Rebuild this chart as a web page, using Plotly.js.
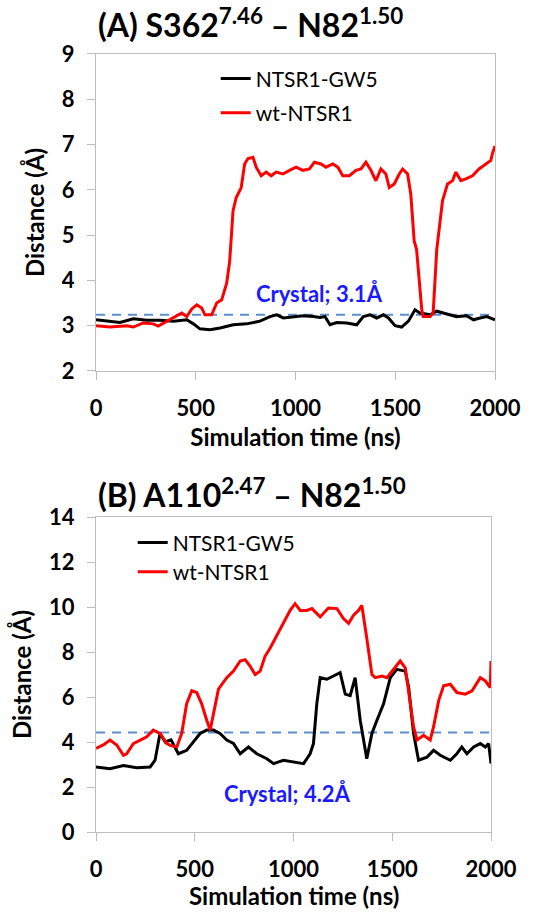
<!DOCTYPE html>
<html>
<head>
<meta charset="utf-8">
<script src="https://cdn.plot.ly/plotly-3.0.1.min.js"></script>
<style>html,body{margin:0;padding:0;background:#fff;}#chart{width:548px;height:913px;}</style>
</head>
<body>
<div id="chart"></div>
<script>
// ---------- Panel A: S362(7.46) – N82(1.50) ----------
const timeA_wt = [0,70,154,187,237,287,312,354,388,430,455,480,505,530,546,580,605,630,655,670,687,703,728,745,762,787,803,828,853,878,903,937,970,1003,1037,1070,1095,1128,1153,1187,1212,1237,1270,1303,1328,1353,1378,1403,1428,1453,1470,1495,1520,1537,1562,1578,1595,1607,1633,1640,1675,1690,1708,1720,1737,1762,1787,1804,1829,1854,1887,1920,1954,1979,1987,2000];
const distA_wt = [3.0,2.97,3.0,2.97,3.06,3.04,2.99,3.1,3.17,3.28,3.2,3.37,3.46,3.39,3.24,3.24,3.5,3.57,3.94,4.42,5.54,5.83,6.05,6.57,6.69,6.72,6.5,6.31,6.39,6.31,6.39,6.35,6.43,6.5,6.43,6.46,6.61,6.57,6.5,6.57,6.5,6.31,6.31,6.43,6.46,6.61,6.43,6.2,6.46,6.35,6.05,6.13,6.35,6.46,6.35,5.9,4.87,4.68,3.35,3.2,3.2,3.28,4.68,5.16,5.76,6.13,6.2,6.39,6.2,6.24,6.31,6.46,6.57,6.65,6.8,6.97];
const timeA_gw5 = [0,53,120,187,254,321,388,455,488,521,571,622,688,755,822,872,906,939,989,1039,1089,1123,1148,1173,1207,1257,1307,1340,1374,1407,1440,1466,1499,1532,1566,1599,1624,1675,1708,1758,1808,1858,1892,1925,1959,2000];
const distA_gw5 = [3.13,3.1,3.07,3.15,3.12,3.12,3.1,3.13,3.04,2.93,2.91,2.95,3.02,3.04,3.1,3.2,3.24,3.17,3.19,3.22,3.2,3.18,3.2,3.02,3.07,3.06,3.02,3.2,3.24,3.17,3.24,3.17,3.0,2.97,3.1,3.35,3.28,3.24,3.32,3.26,3.2,3.22,3.13,3.17,3.2,3.13];
const crystalA = 3.24;
const crystalA_label = "Crystal; 3.1Å";

// ---------- Panel B: A110(2.47) – N82(1.50) ----------
const timeB_wt = [0,37,71,105,139,155,189,223,257,290,324,358,375,409,434,459,485,510,535,561,578,595,620,662,696,730,755,780,806,831,856,882,907,932,958,983,1008,1034,1067,1093,1135,1177,1220,1253,1279,1304,1329,1346,1371,1397,1414,1448,1473,1507,1540,1566,1591,1608,1625,1659,1692,1709,1735,1760,1794,1827,1870,1904,1946,1971,1996,2000];
const distB_wt = [3.72,3.87,4.09,3.87,3.41,3.48,3.93,4.09,4.23,4.53,4.38,3.94,3.85,3.78,4.38,5.7,6.28,6.2,5.7,4.96,4.53,5.26,6.35,6.86,7.15,7.6,7.66,7.37,7.0,7.15,7.81,8.18,8.61,8.98,9.42,9.85,10.15,9.85,9.85,9.93,9.56,9.96,9.93,9.49,9.27,9.64,9.85,10.07,8.61,7.0,6.86,6.93,6.86,7.23,7.6,7.3,5.7,4.67,4.09,4.3,4.09,4.67,5.84,6.5,6.57,6.2,6.13,6.28,6.86,6.72,6.42,7.6];
const timeB_gw5 = [0,71,139,206,274,299,324,350,380,417,459,493,527,561,595,628,662,696,730,772,814,865,899,949,1000,1051,1084,1101,1118,1135,1169,1203,1236,1262,1287,1312,1338,1371,1397,1422,1456,1490,1523,1566,1583,1608,1633,1676,1709,1743,1794,1827,1852,1878,1912,1946,1971,1988,2000];
const distB_gw5 = [2.89,2.81,2.96,2.86,2.89,3.19,4.38,4.0,4.1,3.48,3.63,4.0,4.38,4.53,4.53,4.38,4.09,3.94,3.48,3.78,3.48,3.26,3.04,3.19,3.11,3.04,3.48,3.93,5.7,6.86,6.79,6.93,7.08,6.13,6.06,6.86,4.96,3.26,4.38,4.96,5.7,6.86,7.23,7.15,6.42,4.38,3.19,3.33,3.63,3.41,3.19,3.48,3.78,3.48,3.78,3.93,3.78,3.93,3.04];
const crystalB = 4.42;
const crystalB_label = "Crystal; 4.2Å";

const timeRange = [0, 2000];
const xTicks = [0, 500, 1000, 1500, 2000];
const seriesNames = ["NTSR1-GW5", "wt-NTSR1"];
const titleA = "(A) S362<sup>7.46</sup> – N82<sup>1.50</sup>";
const titleB = "(B) A110<sup>2.47</sup> – N82<sup>1.50</sup>";
const xTitle = "Simulation time (ns)";
const yTitle = "Distance (Å)";

const FONT = "Lato, 'Open Sans', sans-serif";
const BLACK = "#000000", RED = "#ff0000", DASH = "#5b8fd0", BLUE = "#1a1aff", FRAME = "#bdbdbd";

const traces = [
  {x: timeA_gw5, y: distA_gw5, name: seriesNames[0], type: "scatter", mode: "lines", line: {color: BLACK, width: 3}, xaxis: "x", yaxis: "y", legend: "legend"},
  {x: timeA_wt, y: distA_wt, name: seriesNames[1], type: "scatter", mode: "lines", line: {color: RED, width: 3}, xaxis: "x", yaxis: "y", legend: "legend2"},
  {x: timeRange, y: [crystalA, crystalA], type: "scatter", mode: "lines", line: {color: DASH, width: 2, dash: "9px,7px"}, showlegend: false, xaxis: "x", yaxis: "y", hoverinfo: "skip"},
  {x: timeB_gw5, y: distB_gw5, name: seriesNames[0], type: "scatter", mode: "lines", line: {color: BLACK, width: 3}, xaxis: "x2", yaxis: "y2", legend: "legend3"},
  {x: timeB_wt, y: distB_wt, name: seriesNames[1], type: "scatter", mode: "lines", line: {color: RED, width: 3}, xaxis: "x2", yaxis: "y2", legend: "legend4"},
  {x: timeRange, y: [crystalB, crystalB], type: "scatter", mode: "lines", line: {color: DASH, width: 2, dash: "9px,7px"}, showlegend: false, xaxis: "x2", yaxis: "y2", hoverinfo: "skip"}
];
// dashed reference lines drawn behind the data
const order = [2, 0, 1, 5, 3, 4].map(i => traces[i]);

const tickFont = {family: FONT, size: 22, color: "#000", weight: "bold"};
const axTitleFont = {family: FONT, size: 24, color: "#000", weight: "bold"};
function xax(domain, anchor, withTitle) {
  const a = {domain: domain, anchor: anchor, range: timeRange, tickvals: xTicks, ticks: "outside", ticklen: 8, tickcolor: FRAME,
    showline: true, linecolor: FRAME, linewidth: 1, mirror: true, showgrid: false, zeroline: false,
    tickfont: tickFont, ticklabelstandoff: 10, automargin: false};
  if (withTitle) a.title = {text: xTitle, font: axTitleFont, standoff: 8};
  return a;
}
function yax(domain, anchor, range, dtick) {
  return {domain: domain, anchor: anchor, range: range, dtick: dtick, ticks: "outside", ticklen: 8, tickcolor: FRAME,
    showline: true, linecolor: FRAME, linewidth: 1, mirror: true, showgrid: false, zeroline: false,
    tickfont: tickFont, ticklabelstandoff: 8, automargin: false, title: {text: yTitle, font: axTitleFont, standoff: 10}};
}
function leg(x, y) {
  return {x: x, y: y, xanchor: "left", yanchor: "middle", bgcolor: "rgba(0,0,0,0)", borderwidth: 0,
    font: {family: FONT, size: 21, color: "#000"}, itemwidth: 30, tracegroupgap: 0};
}

const layout = {
  width: 548, height: 913,
  margin: {l: 96, r: 53, t: 0, b: 0},
  paper_bgcolor: "#fff", plot_bgcolor: "#fff",
  xaxis: xax([0, 1], "y", true),
  yaxis: yax([0.5937, 0.9409], "x", [2, 9], 1),
  xaxis2: xax([0, 0.99], "y2", false),
  yaxis2: yax([0.0887, 0.4337], "x2", [0, 14], 2),
  legend: leg(0.30, 0.9135),
  legend2: leg(0.30, 0.8762),
  legend3: leg(0.092, 0.4053),
  legend4: leg(0.092, 0.3735),
  annotations: [
    {text: titleA, xref: "paper", yref: "paper", x: 0.0, y: 0.975, xanchor: "left", yanchor: "middle", showarrow: false,
     font: {family: FONT, size: 32, color: "#000", weight: "bold"}},
    {text: titleB, xref: "paper", yref: "paper", x: 0.0, y: 0.46, xanchor: "left", yanchor: "middle", showarrow: false,
     font: {family: FONT, size: 32, color: "#000", weight: "bold"}},
    {text: xTitle, xref: "x2 domain", yref: "paper", x: 0.5, y: 0.0015, xanchor: "center", yanchor: "bottom", showarrow: false,
     font: axTitleFont},
    {text: crystalA_label, xref: "x", yref: "y", x: 1120, y: 3.72, xanchor: "center", yanchor: "middle", showarrow: false,
     font: {family: FONT, size: 22, color: BLUE, weight: "bold"}},
    {text: crystalB_label, xref: "x2", yref: "y2", x: 972, y: 1.73, xanchor: "center", yanchor: "middle", showarrow: false,
     font: {family: FONT, size: 22, color: BLUE, weight: "bold"}}
  ],
  showlegend: true
};

Plotly.newPlot("chart", order, layout, {displayModeBar: false, staticPlot: true});
</script>
</body>
</html>
